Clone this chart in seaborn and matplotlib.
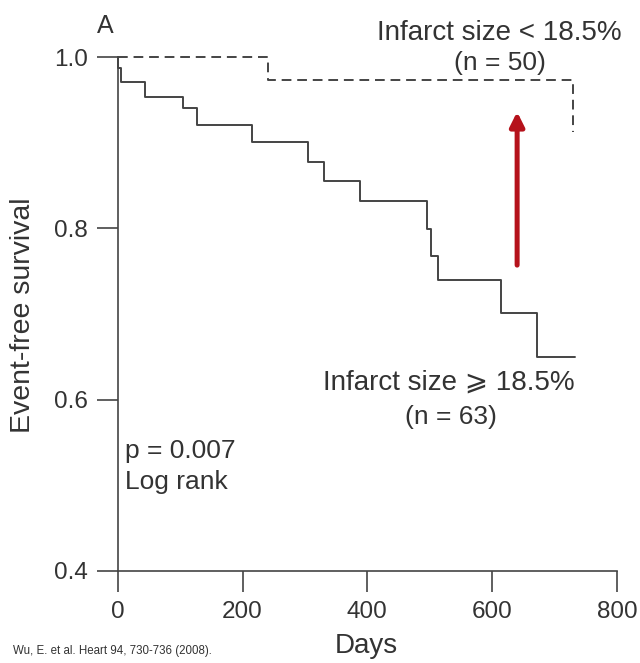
import matplotlib
matplotlib.use("Agg")
import matplotlib.pyplot as plt
import seaborn as sns
import pandas as pd

# -- Data --------------------------------------------------------------------
small_days = [0, 240, 729]
small_surv = [1.0, 0.973, 0.912]

large_days = [0, 1, 5, 43, 104, 127, 215, 305, 330, 389, 496, 502, 513, 614, 672, 732]
large_surv = [1.0, 0.987, 0.971, 0.953, 0.940, 0.921, 0.901, 0.877, 0.855,
              0.832, 0.799, 0.768, 0.740, 0.701, 0.650, 0.650]

x_ticks = [0, 200, 400, 600, 800]
y_ticks = [0.4, 0.6, 0.8, 1.0]

small_df = pd.DataFrame({"Days": small_days, "Survival": small_surv})
large_df = pd.DataFrame({"Days": large_days, "Survival": large_surv})

# -- Style -------------------------------------------------------------------
sns.set_theme(style="ticks")
plt.rcParams["font.family"] = ["Liberation Sans", "DejaVu Sans"]
text_col = "#333333"
line_col = "#444444"

fig = plt.figure(figsize=(6.4, 6.63), dpi=100)
ax = fig.add_axes([0.184, 0.139, 0.780, 0.775])

sns.lineplot(data=small_df, x="Days", y="Survival", drawstyle="steps-post",
             estimator=None, color=line_col, linewidth=1.4, linestyle=(0, (5, 3)),
             clip_on=False, ax=ax)
sns.lineplot(data=large_df, x="Days", y="Survival", drawstyle="steps-post",
             estimator=None, color=line_col, linewidth=1.4, clip_on=False, ax=ax)

ax.set_xlim(0, 800)
ax.set_ylim(0.4, 1.0)
ax.set_xticks(x_ticks)
ax.set_yticks(y_ticks)
ax.set_yticklabels([f"{v:.1f}" for v in y_ticks])
ax.tick_params(axis="both", length=15, width=1.2, colors=line_col,
               labelcolor=text_col, labelsize=17.5, pad=6.5)
for side in ["top", "right"]:
    ax.spines[side].set_visible(False)
for side in ["left", "bottom"]:
    ax.spines[side].set_color(line_col)
    ax.spines[side].set_linewidth(1.2)
ax.set_xlabel("")
ax.set_ylabel("")

# red arrow
ax.annotate("", xy=(640, 0.936), xytext=(640, 0.757),
            arrowprops=dict(arrowstyle="-|>,head_length=0.7,head_width=0.35",
                            color="#b5121b", lw=3.6, shrinkA=0, shrinkB=0))

# annotations
ax.text(-34, 1.036, "A", fontsize=18, color=text_col, ha="left", va="center",
        clip_on=False)
ax.text(611, 1.028, "Infarct size < 18.5%", fontsize=20, color=text_col,
        ha="center", va="center", clip_on=False)
ax.text(612, 0.993, "(n = 50)", fontsize=19, color=text_col, ha="center", va="center")
ax.text(530, 0.620, "Infarct size ⩾ 18.5%", fontsize=20, color=text_col,
        ha="center", va="center")
ax.text(534, 0.580, "(n = 63)", fontsize=19, color=text_col, ha="center", va="center")
ax.text(12, 0.540, "p = 0.007", fontsize=19, color=text_col, ha="left", va="center")
ax.text(12, 0.504, "Log rank", fontsize=19, color=text_col, ha="left", va="center")

fig.text(0.036, 0.525, "Event-free survival", rotation=90, fontsize=20.5,
         color=text_col, ha="center", va="center")
fig.text(0.572, 0.026, "Days", fontsize=20, color=text_col, ha="center", va="center")
fig.text(0.02, 0.018, "Wu, E. et al. Heart 94, 730-736 (2008).", fontsize=8.3,
         color=text_col, ha="left", va="center")

fig.savefig("out.png", dpi=100, facecolor="white")
